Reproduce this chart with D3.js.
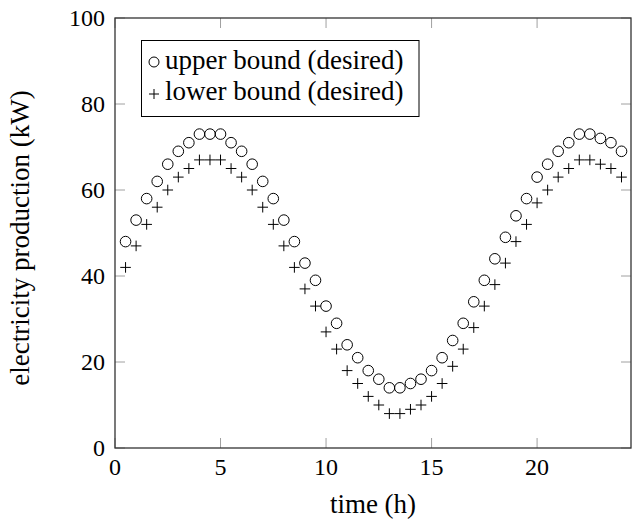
<!DOCTYPE html>
<html>
<head>
<meta charset="utf-8">
<script src="https://cdn.jsdelivr.net/npm/d3@7"></script>
<style>
  body { margin: 0; background: #fff; }
  text { font-family: "Liberation Serif", "Times New Roman", serif; fill: #000; }
</style>
</head>
<body>
<div id="chart"></div>
<script>
// data: time (h) and the two desired bounds (kW)
const hours = [0.5, 1, 1.5, 2, 2.5, 3, 3.5, 4, 4.5, 5, 5.5, 6, 6.5, 7, 7.5, 8, 8.5, 9, 9.5, 10,
    10.5, 11, 11.5, 12, 12.5, 13, 13.5, 14, 14.5, 15, 15.5, 16, 16.5, 17, 17.5, 18, 18.5, 19, 19.5, 20,
    20.5, 21, 21.5, 22, 22.5, 23, 23.5, 24];
const upperBound = [48, 53, 58, 62, 66, 69, 71, 73, 73, 73, 71, 69, 66, 62, 58, 53, 48, 43, 39, 33,
    29, 24, 21, 18, 16, 14, 14, 15, 16, 18, 21, 25, 29, 34, 39, 44, 49, 54, 58, 63,
    66, 69, 71, 73, 73, 72, 71, 69];
const lowerBound = [42, 47, 52, 56, 60, 63, 65, 67, 67, 67, 65, 63, 60, 56, 52, 47, 42, 37, 33, 27,
    23, 18, 15, 12, 10, 8, 8, 9, 10, 12, 15, 19, 23, 28, 33, 38, 43, 48, 52, 57,
    60, 63, 65, 67, 67, 66, 65, 63];
const xTicks = [0, 5, 10, 15, 20];
const yTicks = [0, 20, 40, 60, 80, 100];
const legendLabels = ["upper bound (desired)", "lower bound (desired)"];

const W = 632, H = 521;
const margin = {top: 18, left: 115, right: 1, bottom: 73};
const width = W - margin.left - margin.right;
const height = H - margin.top - margin.bottom;

const svg = d3.select("#chart").append("svg")
    .attr("width", W)
    .attr("height", H);

const g = svg.append("g")
    .attr("transform", `translate(${margin.left},${margin.top})`);

const x = d3.scaleLinear().domain([0, 24.45]).range([0, width]);
const y = d3.scaleLinear().domain([0, 100]).range([height, 0]);

const tickLen = 10;
const tickColor = "#a0a0a0";

// x ticks (bottom + top, inward)
xTicks.forEach(t => {
    g.append("line").attr("x1", x(t)).attr("x2", x(t))
        .attr("y1", height).attr("y2", height - tickLen)
        .attr("stroke", tickColor).attr("stroke-width", 1);
    g.append("line").attr("x1", x(t)).attr("x2", x(t))
        .attr("y1", 0).attr("y2", tickLen)
        .attr("stroke", tickColor).attr("stroke-width", 1);
    g.append("text")
        .attr("x", x(t)).attr("y", height + 27)
        .style("text-anchor", "middle")
        .style("font-size", "24px")
        .text(t);
});

// y ticks (left + right, inward)
yTicks.forEach(t => {
    g.append("line").attr("x1", 0).attr("x2", tickLen)
        .attr("y1", y(t)).attr("y2", y(t))
        .attr("stroke", tickColor).attr("stroke-width", 1);
    g.append("line").attr("x1", width).attr("x2", width - tickLen)
        .attr("y1", y(t)).attr("y2", y(t))
        .attr("stroke", tickColor).attr("stroke-width", 1);
    g.append("text")
        .attr("x", -10).attr("y", y(t) + 8)
        .style("text-anchor", "end")
        .style("font-size", "24px")
        .text(t);
});

// frame
g.append("rect")
    .attr("width", width).attr("height", height)
    .attr("fill", "none")
    .attr("stroke", "#333")
    .attr("stroke-width", 1.3);

// series
const circleR = 5.3;
const plusH = 5.3;
const plusPath = `M${-plusH},0H${plusH}M0,${-plusH}V${plusH}`;

g.append("g").selectAll("circle")
    .data(hours.map((h, i) => ({h: h, v: upperBound[i]})))
    .enter().append("circle")
    .attr("cx", d => x(d.h))
    .attr("cy", d => y(d.v))
    .attr("r", circleR)
    .attr("fill", "none")
    .attr("stroke", "#000")
    .attr("stroke-width", 1);

g.append("g").selectAll("path")
    .data(hours.map((h, i) => ({h: h, v: lowerBound[i]})))
    .enter().append("path")
    .attr("transform", d => `translate(${x(d.h)},${y(d.v)})`)
    .attr("d", plusPath)
    .attr("fill", "none")
    .attr("stroke", "#000")
    .attr("stroke-width", 1);

// legend
const legend = svg.append("g").attr("class", "legend");
legend.append("rect")
    .attr("x", 141.5).attr("y", 40.5)
    .attr("width", 277.5).attr("height", 76)
    .attr("fill", "#fff")
    .attr("stroke", "#000")
    .attr("stroke-width", 1);

legend.append("circle")
    .attr("cx", 154).attr("cy", 62)
    .attr("r", 5)
    .attr("fill", "none").attr("stroke", "#000").attr("stroke-width", 1);
legend.append("path")
    .attr("transform", "translate(154,94)")
    .attr("d", `M-5,0H5M0,-5V5`)
    .attr("fill", "none").attr("stroke", "#000").attr("stroke-width", 1);

legendLabels.forEach((lab, i) => {
    legend.append("text")
        .attr("x", 165).attr("y", 69 + i * 31)
        .style("font-size", "27px")
        .text(lab);
});

// axis labels
svg.append("text")
    .attr("x", margin.left + width / 2).attr("y", 513)
    .style("text-anchor", "middle")
    .style("font-size", "27px")
    .text("time (h)");

svg.append("text")
    .attr("transform", `translate(29,238) rotate(-90)`)
    .style("text-anchor", "middle")
    .style("font-size", "27px")
    .text("electricity production (kW)");
</script>
</body>
</html>
